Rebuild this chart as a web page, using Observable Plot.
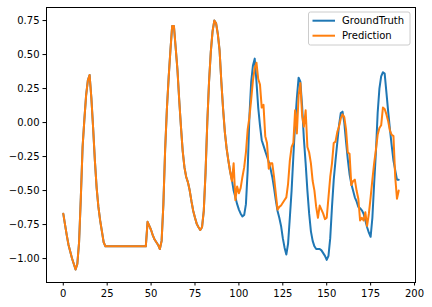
<!DOCTYPE html>
<html>
<head>
<meta charset="utf-8">
<script src="https://cdn.jsdelivr.net/npm/d3@7"></script>
<script src="https://cdn.jsdelivr.net/npm/@observablehq/plot@0.6"></script>
<style>
  html, body { margin: 0; padding: 0; background: #fff; }
</style>
</head>
<body>
<div id="chart"></div>
<script>
const seriesNames = ["GroundTruth", "Prediction"];
const seriesColors = ["#1f77b4", "#ff7f0e"];
const xTicks = [0, 25, 50, 75, 100, 125, 150, 175, 200];
const yTicks = [-1.00, -0.75, -0.50, -0.25, 0.00, 0.25, 0.50, 0.75];

const groundTruth = [
  -0.67, -0.75, -0.83, -0.90, -0.95, -1.00, -1.04, -1.08, -1.04, -0.88,
  -0.55, -0.18, 0.02, 0.20, 0.31, 0.35, 0.18, -0.04, -0.28, -0.48,
  -0.62, -0.72, -0.80, -0.88, -0.91, -0.91, -0.91, -0.91, -0.91, -0.91,
  -0.91, -0.91, -0.91, -0.91, -0.91, -0.91, -0.91, -0.91, -0.91, -0.91,
  -0.91, -0.91, -0.91, -0.91, -0.91, -0.91, -0.91, -0.91, -0.73, -0.76,
  -0.79, -0.83, -0.86, -0.88, -0.90, -0.93, -0.87, -0.60, -0.20, 0.10,
  0.33, 0.53, 0.71, 0.71, 0.55, 0.39, 0.17, -0.03, -0.21, -0.33,
  -0.40, -0.44, -0.50, -0.58, -0.65, -0.70, -0.745, -0.77, -0.79, -0.77,
  -0.65, -0.37, 0.00, 0.30, 0.52, 0.67, 0.75, 0.73, 0.65, 0.53,
  0.30, 0.10, -0.07, -0.19, -0.28, -0.36,
  -0.42, -0.50, -0.55, -0.60, -0.64, -0.67, -0.69, -0.68, -0.60, -0.35,
  0.05, 0.30, 0.42, 0.47, 0.30, 0.11, -0.02, -0.13, -0.17, -0.21,
  -0.25, -0.29, -0.34, -0.40, -0.48, -0.57, -0.65, -0.70, -0.76, -0.85,
  -0.92, -0.97, -0.89, -0.70, -0.50, -0.25, -0.01, 0.18, 0.33, 0.30,
  0.12, -0.12, -0.30, -0.50, -0.67, -0.80, -0.87, -0.91, -0.93, -0.93,
  -0.93, -0.94, -0.96, -0.98, -1.01, -0.98, -0.85, -0.62, -0.42, -0.28,
  -0.15, -0.02, 0.07, 0.08, 0.00, -0.14, -0.27, -0.38, -0.45, -0.50,
  -0.55, -0.58, -0.62, -0.63, -0.645, -0.67, -0.72, -0.77, -0.81, -0.84,
  -0.70, -0.45, -0.22, 0.07, 0.25, 0.34, 0.37, 0.36, 0.22, 0.08,
  -0.05, -0.17, -0.28, -0.35, -0.42, -0.42
];

const prediction = [
  -0.67, -0.75, -0.83, -0.90, -0.95, -1.00, -1.04, -1.08, -1.04, -0.88,
  -0.55, -0.18, 0.02, 0.20, 0.31, 0.35, 0.18, -0.04, -0.28, -0.48,
  -0.62, -0.72, -0.80, -0.88, -0.91, -0.91, -0.91, -0.91, -0.91, -0.91,
  -0.91, -0.91, -0.91, -0.91, -0.91, -0.91, -0.91, -0.91, -0.91, -0.91,
  -0.91, -0.91, -0.91, -0.91, -0.91, -0.91, -0.91, -0.91, -0.73, -0.76,
  -0.79, -0.83, -0.86, -0.88, -0.90, -0.93, -0.87, -0.60, -0.20, 0.10,
  0.33, 0.53, 0.71, 0.71, 0.55, 0.39, 0.17, -0.03, -0.21, -0.33,
  -0.40, -0.44, -0.50, -0.58, -0.65, -0.70, -0.745, -0.77, -0.79, -0.77,
  -0.65, -0.37, 0.00, 0.30, 0.52, 0.67, 0.75, 0.73, 0.65, 0.53,
  0.30, 0.10, -0.07, -0.19, -0.28, -0.36,
  -0.43, -0.30, -0.57, -0.47, -0.52, -0.48, -0.40, -0.33, -0.22, -0.05,
  0.04, 0.17, 0.31, 0.40, 0.44, 0.32, 0.28, 0.11, 0.13, -0.10,
  -0.15, -0.34, -0.30, -0.30, -0.40, -0.52, -0.64, -0.62, -0.61, -0.59,
  -0.57, -0.55, -0.45, -0.28, -0.18, -0.15, 0.09, -0.08, 0.20, 0.29,
  0.05, -0.03, 0.09, -0.18, -0.22, -0.30, -0.43, -0.50, -0.62, -0.70,
  -0.61, -0.64, -0.67, -0.71, -0.70, -0.55, -0.40, -0.30, -0.15, -0.14,
  -0.07, -0.03, 0.03, 0.06, 0.04, -0.05, -0.22, -0.23, -0.46, -0.43,
  -0.42, -0.50, -0.56, -0.72, -0.70, -0.72, -0.66, -0.76, -0.67, -0.55,
  -0.42, -0.30, -0.20, -0.09, -0.04, -0.02, 0.11, 0.10, 0.06, 0.01,
  -0.06, -0.09, -0.10, -0.40, -0.56, -0.50
];

const rows = groundTruth.map((v, i) => ({i, truth: v, pred: prediction[i]}));

const W = 432, H = 307;
const chart = Plot.plot({
  width: W,
  height: H,
  marginLeft: 46,
  marginRight: 17,
  marginTop: 7,
  marginBottom: 25,
  style: {fontFamily: "DejaVu Sans", fontSize: "10px", color: "#000", background: "#fff", overflow: "visible"},
  x: {domain: [-9.55, 200.55], ticks: xTicks, tickSize: 3.5, tickPadding: 3.5, label: null},
  y: {domain: [-1.176, 0.846], ticks: yTicks, tickSize: 3.5, tickPadding: 3.5, tickFormat: d3.format(".2f"), label: null},
  marks: [
    Plot.line(rows, {x: "i", y: "truth", stroke: seriesColors[0], strokeWidth: 2}),
    Plot.line(rows, {x: "i", y: "pred", stroke: seriesColors[1], strokeWidth: 2}),
    Plot.frame({stroke: "#000", strokeWidth: 1})
  ]
});
document.getElementById("chart").appendChild(chart);

// Legend (matplotlib-style, upper right)
const svg = d3.select(chart);
const lg = svg.append("g")
  .attr("font-family", "DejaVu Sans").attr("font-size", 10).attr("text-anchor", "start");
lg.append("rect")
  .attr("x", 308.5).attr("y", 12).attr("width", 101.5).attr("height", 33)
  .attr("rx", 2).attr("fill", "#fff").attr("fill-opacity", 0.8)
  .attr("stroke", "#cccccc").attr("stroke-width", 1);
seriesNames.forEach((name, k) => {
  const yy = 20.7 + k * 15;
  lg.append("line").attr("x1", 312.5).attr("x2", 335).attr("y1", yy).attr("y2", yy)
    .attr("stroke", seriesColors[k]).attr("stroke-width", 2);
  lg.append("text").attr("x", 342).attr("y", yy + 3.6)
    .attr("fill", "#000").attr("text-anchor", "start").text(name);
});
</script>
</body>
</html>
